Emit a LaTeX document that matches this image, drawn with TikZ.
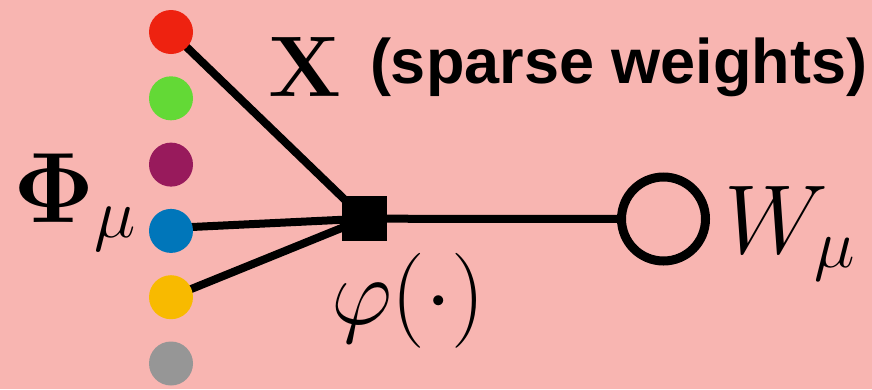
\documentclass[tikz,border=0pt]{standalone}
\usepackage{fix-cm}
\usepackage[no-math]{fontspec}
\newfontfamily\labelsans{Liberation Sans}
\definecolor{bgpink}{HTML}{F8B5B1}
\definecolor{dred}{HTML}{EE2210}
\definecolor{dgreen}{HTML}{63D936}
\definecolor{dpurple}{HTML}{981A5C}
\definecolor{dblue}{HTML}{0076BA}
\definecolor{dyellow}{HTML}{F8BA00}
\definecolor{dgray}{HTML}{969696}
\tikzset{
  dot/.style={circle, fill=#1, minimum size=44pt, inner sep=0pt, outer sep=0pt},
  factor/.style={rectangle, fill=black, minimum size=45pt, inner sep=0pt},
  varnode/.style={circle, draw=black, line width=9pt, minimum size=84pt, inner sep=0pt},
  edge/.style={line width=8pt, black},
  lbl/.style={inner sep=0pt, outer sep=0pt},
}
\begin{document}
\begin{tikzpicture}[x=1pt,y=-1pt]
\fill[bgpink] (0,0) rectangle (872,389);
\useasboundingbox (0,0) rectangle (872,389);
% edges first (behind nodes)
\coordinate (cr) at (171,32);
\coordinate (cb) at (171,228);
\coordinate (cy) at (171,297.2);
\coordinate (csq) at (364.5,218.7);
\coordinate (cw) at (663.5,219);
\draw[edge] (cr) -- (csq);
\draw[edge] (cb) -- (csq);
\draw[edge] (cy) -- (csq);
\draw[edge] (csq) -- (cw);
% dots
\node[dot=dred] (r) at (cr) {};
\node[dot=dgreen] (g) at (171,98.3) {};
\node[dot=dpurple] (p) at (171,164.6) {};
\node[dot=dblue] (b) at (171,230.9) {};
\node[dot=dyellow] (y) at (cy) {};
\node[dot=dgray] (k) at (171,363.5) {};
% factor and variable
\node[factor] (sq) at (csq) {};
\node[varnode, fill=bgpink] (w) at (cw) {};
% labels
\node[lbl, anchor=base west] (xl) at (268,96) {\fontsize{86}{90}\selectfont $\mathbf{X}$};
\node[lbl, anchor=base west] (sw) at (370,83) {\fontsize{63}{70}\selectfont\labelsans\bfseries (sparse weights)};
\node[lbl, anchor=base west] (phi) at (13,222) {\fontsize{100}{105}\selectfont $\mathbf{\Phi}_\mu$};
\node[lbl, anchor=base west] (vphi) at (331,324) {\fontsize{95}{100}\selectfont $\varphi(\cdot)$};
\node[lbl, anchor=base west] (wl) at (724,253) {\fontsize{98}{102}\selectfont $W_\mu$};
\end{tikzpicture}
\end{document}
